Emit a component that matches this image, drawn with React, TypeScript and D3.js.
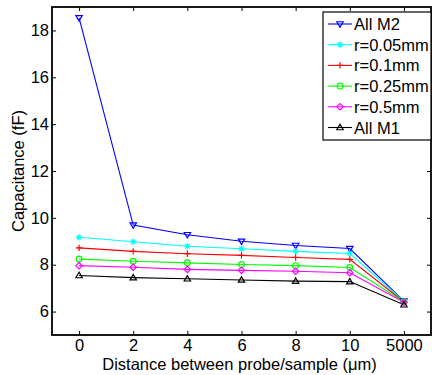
import React, { useEffect, useRef } from 'react';
import * as d3 from 'd3';

const distances = ['0', '2', '4', '6', '8', '10', '5000'];
const yTicks = [6, 8, 10, 12, 14, 16, 18];

const allM2 = [18.54, 9.69, 9.28, 9.0, 8.82, 8.69, 6.45];
const r005 = [9.17, 8.98, 8.79, 8.68, 8.57, 8.48, 6.44];
const r01 = [8.72, 8.57, 8.47, 8.4, 8.31, 8.23, 6.42];
const r025 = [8.24, 8.15, 8.08, 8.01, 7.96, 7.88, 6.42];
const r05 = [7.96, 7.89, 7.8, 7.76, 7.72, 7.66, 6.4];
const allM1 = [7.54, 7.45, 7.4, 7.35, 7.3, 7.28, 6.29];

const seriesNames = ['All M2', 'r=0.05mm', 'r=0.1mm', 'r=0.25mm', 'r=0.5mm', 'All M1'];
const seriesColors = ['#0000ff', '#00ffff', '#ff0000', '#00ff00', '#ff00ff', '#000000'];
const seriesMarkers = ['triDown', 'star', 'plus', 'circle', 'diamond', 'triUp'];
const seriesValues = [allM2, r005, r01, r025, r05, allM1];

const FONT = 'Liberation Sans, Arial, sans-serif';

const drawMarker = (g, type, x, y, color) => {
    const s = 3.2;
    if (type === 'triDown') {
        g.append('path').attr('d', `M${x - s},${y - s * 0.7}L${x + s},${y - s * 0.7}L${x},${y + s}Z`)
            .attr('fill', 'none').attr('stroke', color).attr('stroke-width', 1.2);
    } else if (type === 'triUp') {
        g.append('path').attr('d', `M${x - s},${y + s * 0.7}L${x + s},${y + s * 0.7}L${x},${y - s}Z`)
            .attr('fill', 'none').attr('stroke', color).attr('stroke-width', 1.2);
    } else if (type === 'circle') {
        g.append('circle').attr('cx', x).attr('cy', y).attr('r', s * 0.9)
            .attr('fill', 'none').attr('stroke', color).attr('stroke-width', 1.2);
    } else if (type === 'diamond') {
        g.append('path').attr('d', `M${x},${y - s}L${x + s},${y}L${x},${y + s}L${x - s},${y}Z`)
            .attr('fill', 'none').attr('stroke', color).attr('stroke-width', 1.2);
    } else if (type === 'plus') {
        g.append('path').attr('d', `M${x - s},${y}L${x + s},${y}M${x},${y - s}L${x},${y + s}`)
            .attr('stroke', color).attr('stroke-width', 1.2);
    } else if (type === 'star') {
        const d = s * 0.7;
        g.append('path')
            .attr('d', `M${x - s},${y}L${x + s},${y}M${x},${y - s}L${x},${y + s}M${x - d},${y - d}L${x + d},${y + d}M${x - d},${y + d}L${x + d},${y - d}`)
            .attr('stroke', color).attr('stroke-width', 1.2);
    }
};

const App = () => {
    const svgRef = useRef(null);

    useEffect(() => {
        const width = 432;
        const height = 375;
        const margin = { top: 7, right: 1, bottom: 40, left: 52 };
        const innerWidth = width - margin.left - margin.right;
        const innerHeight = height - margin.top - margin.bottom;

        const svg = d3.select(svgRef.current);
        svg.selectAll('*').remove();
        svg.attr('width', width).attr('height', height)
            .style('font-family', FONT);

        svg.append('rect').attr('width', width).attr('height', height).attr('fill', 'white');

        const xScale = d3.scalePoint()
            .domain(distances)
            .range([0, innerWidth])
            .padding(0.5);

        const yScale = d3.scaleLinear()
            .domain([5, 19])
            .range([innerHeight, 0]);

        const g = svg.append('g')
            .attr('transform', `translate(${margin.left},${margin.top})`);

        // axes, ticks inside
        const xAxis = d3.axisBottom(xScale).tickSizeInner(-4).tickSizeOuter(0).tickPadding(4);
        const yAxis = d3.axisLeft(yScale).tickValues(yTicks).tickSizeInner(-4).tickSizeOuter(0).tickPadding(3);

        const xg = g.append('g').attr('transform', `translate(0,${innerHeight})`).call(xAxis);
        const yg = g.append('g').call(yAxis);
        const xt = g.append('g').call(d3.axisTop(xScale).tickSizeInner(-4).tickSizeOuter(0).tickFormat(() => ''));
        const yr = g.append('g').attr('transform', `translate(${innerWidth},0)`)
            .call(d3.axisRight(yScale).tickValues(yTicks).tickSizeInner(-4).tickSizeOuter(0).tickFormat(() => ''));

        [xg, yg, xt, yr].forEach(a => {
            a.select('.domain').remove();
            a.selectAll('line').attr('stroke', '#000');
            a.selectAll('text').attr('font-size', 16.5).attr('fill', '#000')
                .style('font-family', FONT);
        });

        g.append('rect')
            .attr('width', innerWidth).attr('height', innerHeight)
            .attr('fill', 'none').attr('stroke', '#000').attr('stroke-width', 1.8);

        // lines
        const line = d3.line()
            .x((d, i) => xScale(distances[i]))
            .y(d => yScale(d));

        seriesValues.forEach((vals, k) => {
            g.append('path')
                .datum(vals)
                .attr('fill', 'none')
                .attr('stroke', seriesColors[k])
                .attr('stroke-width', 1.1)
                .attr('d', line);
        });
        seriesValues.forEach((vals, k) => {
            vals.forEach((v, i) => drawMarker(g, seriesMarkers[k], xScale(distances[i]), yScale(v), seriesColors[k]));
        });

        // axis titles
        svg.append('text')
            .attr('x', margin.left + innerWidth / 2 - 2)
            .attr('y', height - 5)
            .attr('text-anchor', 'middle')
            .attr('font-size', 16.5)
            .text('Distance between probe/sample (\u03bcm)');

        svg.append('text')
            .attr('transform', `translate(24,${margin.top + innerHeight / 2}) rotate(-90)`)
            .attr('text-anchor', 'middle')
            .attr('font-size', 16.5)
            .text('Capacitance (fF)');

        // legend
        const lx = 323;
        const ly = 12;
        const lw = 108;
        const rowH = 20.7;
        svg.append('rect')
            .attr('x', lx).attr('y', ly).attr('width', lw).attr('height', 128)
            .attr('fill', 'white').attr('stroke', '#000').attr('stroke-width', 1.2);

        seriesNames.forEach((name, k) => {
            const cy = ly + 12 + k * rowH;
            svg.append('line')
                .attr('x1', lx + 5).attr('x2', lx + 29)
                .attr('y1', cy).attr('y2', cy)
                .attr('stroke', seriesColors[k]).attr('stroke-width', 1.1);
            drawMarker(svg, seriesMarkers[k], lx + 17, cy, seriesColors[k]);
            svg.append('text')
                .attr('x', lx + 31).attr('y', cy + 6)
                .attr('font-size', 16.5)
                .text(name);
        });
    }, []);

    return <svg ref={svgRef} style={{ position: 'absolute', left: 0, top: 0 }}></svg>;
};

export default App;
